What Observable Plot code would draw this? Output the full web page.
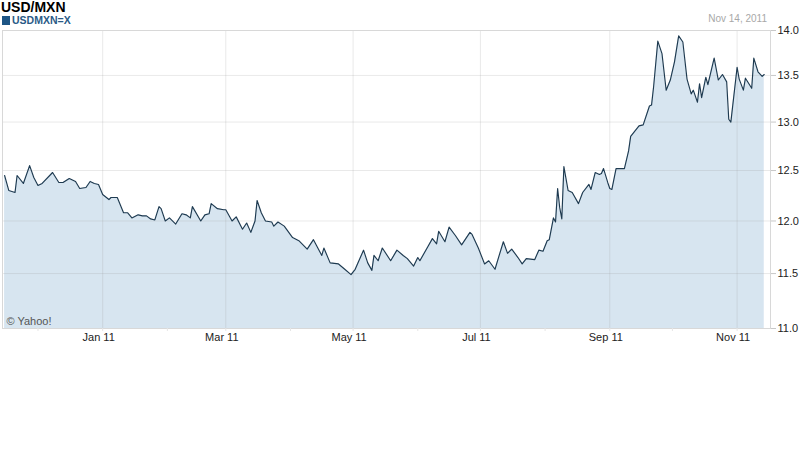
<!DOCTYPE html>
<html><head><meta charset="utf-8">
<script src="https://cdn.jsdelivr.net/npm/d3@7"></script>
<script src="https://cdn.jsdelivr.net/npm/@observablehq/plot@0.6"></script>
<style>
body{margin:0;background:#fff;font-family:"Liberation Sans",Arial,sans-serif;}
#wrap{position:relative;width:800px;height:475px;overflow:hidden;}
#chart{position:absolute;left:0;top:0;}
#title{position:absolute;left:1px;top:0px;font-weight:bold;font-size:14px;line-height:14px;color:#000;}
#legend{position:absolute;left:2px;top:15px;font-weight:bold;font-size:10.5px;color:#2a5a86;line-height:11px;}
#legend span{display:inline-block;width:8px;height:9px;background:#1d5585;vertical-align:-1px;margin-right:2px;}
#date{position:absolute;right:33px;top:13px;font-size:10px;color:#a8a8a8;}
</style></head>
<body><div id="wrap"><div id="chart"></div>
<div id="title">USD/MXN</div>
<div id="legend"><span></span>USDMXN=X</div>
<div id="date">Nov 14, 2011</div>
</div>
<script>
const dates = ["2010-11-15","2010-11-17","2010-11-20","2010-11-21","2010-11-24","2010-11-27","2010-11-29","2010-12-01","2010-12-03","2010-12-08","2010-12-11","2010-12-13","2010-12-16","2010-12-19","2010-12-21","2010-12-24","2010-12-26","2010-12-28","2010-12-30","2011-01-01","2011-01-04","2011-01-05","2011-01-08","2011-01-11","2011-01-13","2011-01-15","2011-01-18","2011-01-20","2011-01-22","2011-01-24","2011-01-26","2011-01-28","2011-01-29","2011-01-31","2011-02-02","2011-02-05","2011-02-08","2011-02-10","2011-02-12","2011-02-13","2011-02-17","2011-02-19","2011-02-21","2011-02-22","2011-02-25","2011-02-28","2011-03-01","2011-03-04","2011-03-06","2011-03-09","2011-03-11","2011-03-13","2011-03-15","2011-03-16","2011-03-18","2011-03-20","2011-03-23","2011-03-24","2011-03-26","2011-03-29","2011-04-02","2011-04-05","2011-04-09","2011-04-12","2011-04-16","2011-04-17","2011-04-20","2011-04-24","2011-04-27","2011-04-30","2011-05-02","2011-05-06","2011-05-08","2011-05-10","2011-05-11","2011-05-13","2011-05-15","2011-05-19","2011-05-22","2011-05-25","2011-05-27","2011-05-30","2011-06-01","2011-06-02","2011-06-06","2011-06-08","2011-06-10","2011-06-11","2011-06-14","2011-06-16","2011-06-19","2011-06-22","2011-06-26","2011-06-27","2011-06-30","2011-07-03","2011-07-05","2011-07-08","2011-07-10","2011-07-12","2011-07-14","2011-07-16","2011-07-19","2011-07-21","2011-07-23","2011-07-27","2011-07-29","2011-07-31","2011-08-02","2011-08-03","2011-08-05","2011-08-06","2011-08-07","2011-08-08","2011-08-09","2011-08-10","2011-08-12","2011-08-14","2011-08-17","2011-08-19","2011-08-22","2011-08-23","2011-08-25","2011-08-27","2011-08-28","2011-08-29","2011-08-31","2011-09-01","2011-09-02","2011-09-04","2011-09-08","2011-09-10","2011-09-11","2011-09-15","2011-09-17","2011-09-20","2011-09-21","2011-09-22","2011-09-24","2011-09-26","2011-09-28","2011-09-30","2011-10-02","2011-10-04","2011-10-06","2011-10-08","2011-10-10","2011-10-11","2011-10-13","2011-10-14","2011-10-15","2011-10-17","2011-10-18","2011-10-21","2011-10-23","2011-10-25","2011-10-27","2011-10-28","2011-10-29","2011-11-01","2011-11-02","2011-11-04","2011-11-05","2011-11-08","2011-11-09","2011-11-11","2011-11-13","2011-11-14"];
const values = [12.45,12.30,12.28,12.45,12.37,12.55,12.43,12.35,12.37,12.48,12.38,12.38,12.42,12.39,12.32,12.33,12.39,12.37,12.36,12.26,12.21,12.23,12.23,12.08,12.08,12.03,12.06,12.05,12.05,12.02,12.01,12.14,12.12,12.00,12.03,11.97,12.07,12.06,12.03,12.14,12.00,12.06,12.07,12.17,12.12,12.11,12.11,12.00,12.04,11.92,11.98,11.89,12.00,12.20,12.08,12.00,11.99,11.95,11.99,11.95,11.84,11.81,11.73,11.82,11.67,11.74,11.60,11.59,11.54,11.49,11.54,11.72,11.60,11.53,11.67,11.62,11.74,11.62,11.72,11.67,11.64,11.57,11.65,11.62,11.76,11.83,11.78,11.90,11.80,11.94,11.86,11.77,11.89,11.87,11.74,11.59,11.62,11.54,11.67,11.80,11.69,11.73,11.65,11.59,11.64,11.63,11.72,11.71,11.81,11.82,12.03,11.99,12.32,12.13,12.02,12.54,12.30,12.28,12.17,12.28,12.36,12.31,12.48,12.46,12.47,12.52,12.38,12.32,12.31,12.52,12.52,12.70,12.85,12.96,12.97,13.17,13.18,13.38,13.88,13.74,13.34,13.45,13.65,13.94,13.87,13.46,13.30,13.34,13.21,13.41,13.26,13.48,13.40,13.69,13.45,13.51,13.43,13.03,13.00,13.59,13.46,13.34,13.47,13.36,13.69,13.54,13.49,13.51];
const yTicks = [11.0, 11.5, 12.0, 12.5, 13.0, 13.5, 14.0];
const xTickDates = ["2011-01-01","2011-03-01","2011-05-01","2011-07-01","2011-09-01","2011-11-01"];
const xDomain = ["2010-11-14","2011-11-17"];
const yDomain = [11, 14];
const copyright = "© Yahoo!";

const data = dates.map((d, i) => ({date: new Date(d), value: values[i]}));
const xTicks = xTickDates.map(d => new Date(d));
const monthTicks = d3.utcMonths(new Date(xDomain[0]), new Date(xDomain[1]));

const chart = Plot.plot({
  width: 800,
  height: 345,
  marginTop: 30,
  marginBottom: 17,
  marginLeft: 2,
  marginRight: 30,
  style: {fontFamily: '"Liberation Sans", Arial, sans-serif', fontSize: "11px", background: "white", color: "#222"},
  x: {type: "utc", domain: xDomain.map(d => new Date(d)), label: null},
  y: {type: "log", domain: yDomain, label: null},
  marks: [
    Plot.areaY(data, {x: "date", y1: yDomain[0], y2: "value", fill: "#d7e5f0", curve: "linear"}),
    Plot.gridY(yTicks, {stroke: "#999", strokeOpacity: 0.22}),
    Plot.gridX(xTicks, {stroke: "#999", strokeOpacity: 0.22}),
    Plot.lineY(data, {x: "date", y: "value", stroke: "#1e3a50", strokeWidth: 1.15}),
    Plot.frame({stroke: "#d8d8d8"}),
    Plot.axisY({anchor: "right", label: null, ticks: yTicks, tickFormat: d3.format(".1f"), tickSize: 5, tickPadding: 2, stroke: "#c8c8c8", fill: "#222"}),
    Plot.axisX({ticks: monthTicks, label: null, tickSize: 3, tickFormat: () => "", stroke: "#e6e6e6"}),
    Plot.axisX({ticks: xTicks, label: null, tickSize: 0, tickPadding: 5, dx: -4, tickFormat: d3.utcFormat("%b %y"), fill: "#222"}),
    Plot.text([copyright], {frameAnchor: "bottom-left", dx: 4, dy: -4, fill: "#555", fontSize: 11, textAnchor: "start"})
  ]
});
document.getElementById("chart").appendChild(chart);
</script>
</body></html>
